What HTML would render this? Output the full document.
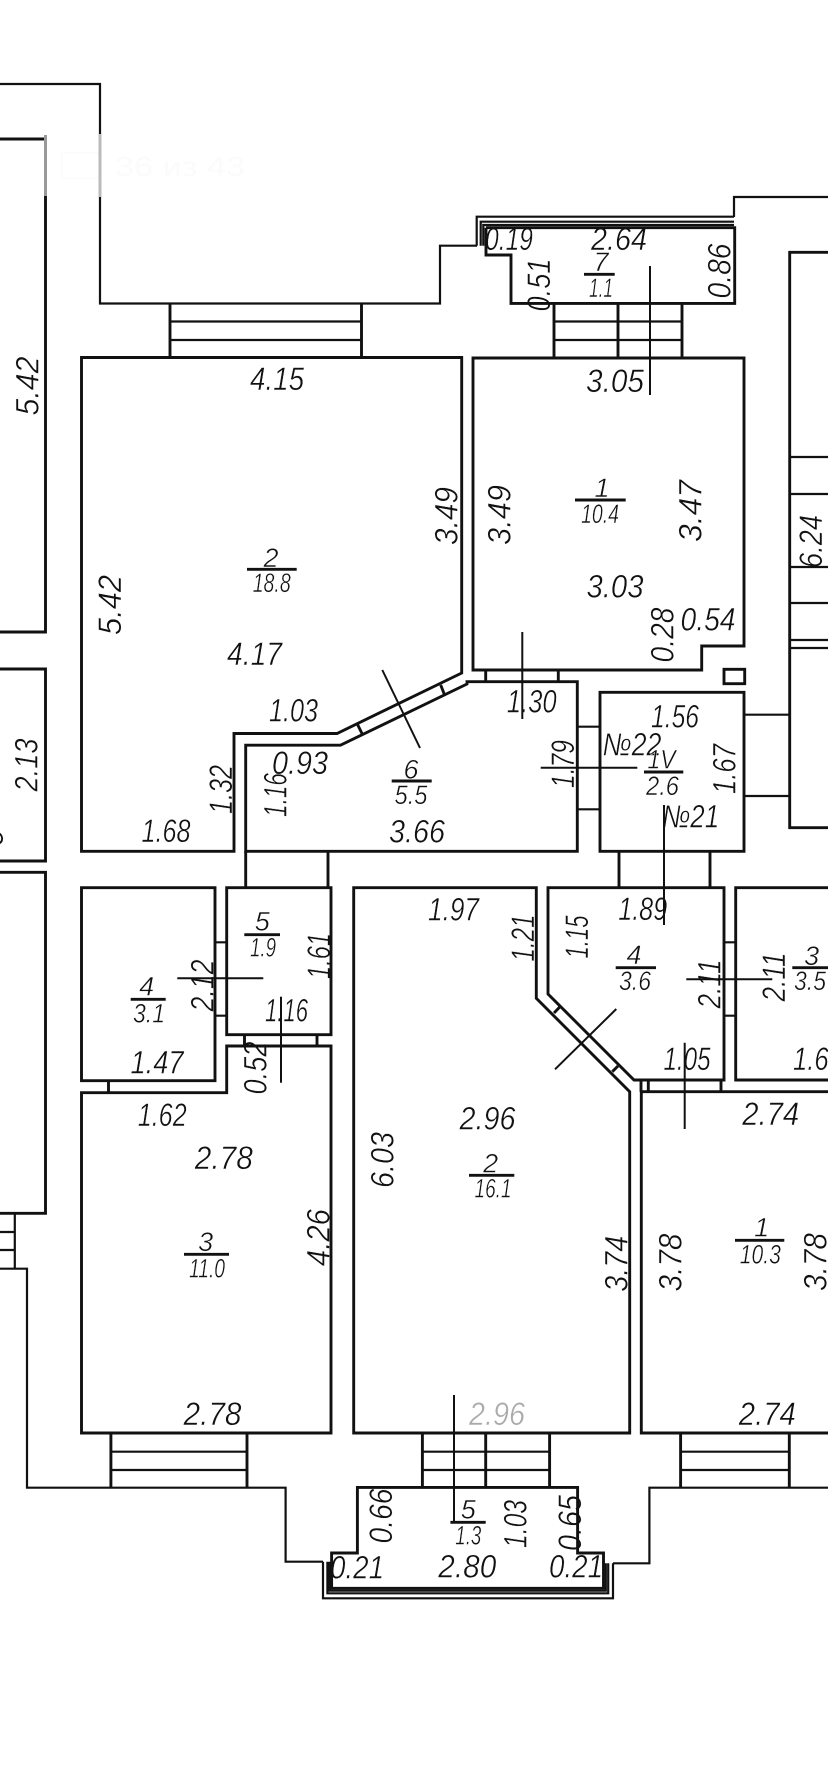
<!DOCTYPE html>
<html><head><meta charset="utf-8"><style>
html,body{margin:0;padding:0;background:#fff;width:828px;height:1792px;overflow:hidden}
svg{display:block}
text{font-family:"Liberation Sans",sans-serif;font-style:italic;font-size:32px;fill:#111;text-anchor:middle;stroke:#fff;stroke-width:.45}
.s{font-size:27px}
.w{fill:none;stroke:#111;stroke-width:2.9;stroke-linejoin:miter}
.o{fill:none;stroke:#111;stroke-width:2.2}
.t{fill:none;stroke:#111;stroke-width:2}
</style></head><body>
<svg width="828" height="1792" viewBox="0 0 828 1792" xmlns="http://www.w3.org/2000/svg">
<rect width="828" height="1792" fill="#fff"/>
<!-- watermark -->
<rect x="62" y="153" width="38" height="25" fill="none" stroke="#fbfbfb" stroke-width="1.5"/>
<text x="180" y="176" textLength="130" lengthAdjust="spacingAndGlyphs" style="font-style:normal;fill:#fbfbfb;font-size:28px;stroke:none">36 из 43</text>

<!-- horizontal labels -->
<text x="277" y="390" textLength="54" lengthAdjust="spacingAndGlyphs">4.15</text>
<text x="509" y="250" textLength="48" lengthAdjust="spacingAndGlyphs">0.19</text>
<text x="619" y="250" textLength="56" lengthAdjust="spacingAndGlyphs">2.64</text>
<text class="s" x="601" y="271">7</text>
<text class="s" x="601" y="297" textLength="24" lengthAdjust="spacingAndGlyphs">1.1</text>
<text x="615" y="392" textLength="58" lengthAdjust="spacingAndGlyphs">3.05</text>
<text class="s" x="602" y="497">1</text>
<text class="s" x="600" y="523" textLength="38" lengthAdjust="spacingAndGlyphs">10.4</text>
<text x="254.500" y="665" textLength="55" lengthAdjust="spacingAndGlyphs">4.17</text>
<text class="s" x="271" y="567">2</text>
<text class="s" x="271.700" y="592" textLength="38" lengthAdjust="spacingAndGlyphs">18.8</text>
<text x="615" y="597.300" textLength="57" lengthAdjust="spacingAndGlyphs">3.03</text>
<text x="708" y="630.700" textLength="55" lengthAdjust="spacingAndGlyphs">0.54</text>
<text x="293.500" y="721.700" textLength="49" lengthAdjust="spacingAndGlyphs">1.03</text>
<text x="300" y="774" textLength="56" lengthAdjust="spacingAndGlyphs">0.93</text>
<text x="166" y="842" textLength="49" lengthAdjust="spacingAndGlyphs">1.68</text>
<text x="417" y="842.700" textLength="56" lengthAdjust="spacingAndGlyphs">3.66</text>
<text class="s" x="411" y="778.300">6</text>
<text class="s" x="411" y="804" textLength="33" lengthAdjust="spacingAndGlyphs">5.5</text>
<text x="531.700" y="712.700" textLength="50" lengthAdjust="spacingAndGlyphs">1.30</text>
<text x="675" y="727.700" textLength="48" lengthAdjust="spacingAndGlyphs">1.56</text>
<text x="632" y="755.700" textLength="59" lengthAdjust="spacingAndGlyphs">№22</text>
<text class="s" x="661.500" y="768.300" textLength="28" lengthAdjust="spacingAndGlyphs">1V</text>
<text class="s" x="662.500" y="795" textLength="33" lengthAdjust="spacingAndGlyphs">2.6</text>
<text x="690.700" y="827.700" textLength="57" lengthAdjust="spacingAndGlyphs">№21</text>
<text x="453.500" y="920.700" textLength="51" lengthAdjust="spacingAndGlyphs">1.97</text>
<text x="642.700" y="920" textLength="49" lengthAdjust="spacingAndGlyphs">1.89</text>
<text class="s" x="634" y="964">4</text>
<text class="s" x="635" y="990" textLength="32" lengthAdjust="spacingAndGlyphs">3.6</text>
<text class="s" x="811.700" y="965">3</text>
<text class="s" x="810" y="990" textLength="32" lengthAdjust="spacingAndGlyphs">3.5</text>
<text x="687" y="1070" textLength="47" lengthAdjust="spacingAndGlyphs">1.05</text>
<text x="818" y="1070" textLength="50" lengthAdjust="spacingAndGlyphs">1.68</text>
<text x="487.500" y="1129.300" textLength="56" lengthAdjust="spacingAndGlyphs">2.96</text>
<text x="770.700" y="1125" textLength="57" lengthAdjust="spacingAndGlyphs">2.74</text>
<text class="s" x="490.700" y="1172.300">2</text>
<text class="s" x="493" y="1197.700" textLength="37" lengthAdjust="spacingAndGlyphs">16.1</text>
<text class="s" x="761.700" y="1236.700">1</text>
<text class="s" x="760.300" y="1263.300" textLength="41" lengthAdjust="spacingAndGlyphs">10.3</text>
<text class="s" x="146.700" y="995.700">4</text>
<text class="s" x="149" y="1022.300" textLength="32" lengthAdjust="spacingAndGlyphs">3.1</text>
<text class="s" x="262.300" y="930.700">5</text>
<text class="s" x="263" y="956.700" textLength="26" lengthAdjust="spacingAndGlyphs">1.9</text>
<text x="286.500" y="1021.700" textLength="43" lengthAdjust="spacingAndGlyphs">1.16</text>
<text x="157" y="1073.300" textLength="53" lengthAdjust="spacingAndGlyphs">1.47</text>
<text x="162.200" y="1126" textLength="49" lengthAdjust="spacingAndGlyphs">1.62</text>
<text x="223.800" y="1169" textLength="58" lengthAdjust="spacingAndGlyphs">2.78</text>
<text class="s" x="205.700" y="1251">3</text>
<text class="s" x="207" y="1277.700" textLength="36" lengthAdjust="spacingAndGlyphs">11.0</text>
<text x="212.500" y="1425" textLength="58" lengthAdjust="spacingAndGlyphs">2.78</text>
<text x="497" y="1425" textLength="56" lengthAdjust="spacingAndGlyphs" style="fill:#aaa">2.96</text>
<text x="767.300" y="1425" textLength="57" lengthAdjust="spacingAndGlyphs">2.74</text>
<text class="s" x="468.300" y="1518.300">5</text>
<text class="s" x="468.300" y="1544.300" textLength="26" lengthAdjust="spacingAndGlyphs">1.3</text>
<text x="357" y="1578.500" textLength="54" lengthAdjust="spacingAndGlyphs">0.21</text>
<text x="467.300" y="1577.300" textLength="58" lengthAdjust="spacingAndGlyphs">2.80</text>
<text x="576" y="1577.300" textLength="54" lengthAdjust="spacingAndGlyphs">0.21</text>

<!-- rotated labels -->
<g transform="translate(38.3,386) rotate(-90)"><text textLength="59" lengthAdjust="spacingAndGlyphs">5.42</text></g>
<g transform="translate(121,605) rotate(-90)"><text textLength="60" lengthAdjust="spacingAndGlyphs">5.42</text></g>
<g transform="translate(550,285) rotate(-90)"><text textLength="53" lengthAdjust="spacingAndGlyphs">0.51</text></g>
<g transform="translate(730.7,271) rotate(-90)"><text textLength="55" lengthAdjust="spacingAndGlyphs">0.86</text></g>
<g transform="translate(457.3,516) rotate(-90)"><text textLength="58" lengthAdjust="spacingAndGlyphs">3.49</text></g>
<g transform="translate(510.7,515) rotate(-90)"><text textLength="60" lengthAdjust="spacingAndGlyphs">3.49</text></g>
<g transform="translate(701.3,511) rotate(-90)"><text textLength="62" lengthAdjust="spacingAndGlyphs">3.47</text></g>
<g transform="translate(822,541.5) rotate(-90)"><text textLength="53" lengthAdjust="spacingAndGlyphs">6.24</text></g>
<g transform="translate(673.3,635) rotate(-90)"><text textLength="55" lengthAdjust="spacingAndGlyphs">0.28</text></g>
<g transform="translate(232,789.500) rotate(-90)"><text textLength="49" lengthAdjust="spacingAndGlyphs">1.32</text></g>
<g transform="translate(286.7,795) rotate(-90)"><text textLength="44" lengthAdjust="spacingAndGlyphs">1.16</text></g>
<g transform="translate(37.3,765) rotate(-90)"><text textLength="53" lengthAdjust="spacingAndGlyphs">2.13</text></g>
<g transform="translate(3,837) rotate(-90)"><text>9</text></g>
<g transform="translate(574,764) rotate(-90)"><text textLength="48" lengthAdjust="spacingAndGlyphs">1.79</text></g>
<g transform="translate(735.7,769) rotate(-90)"><text textLength="50" lengthAdjust="spacingAndGlyphs">1.67</text></g>
<g transform="translate(534,938) rotate(-90)"><text textLength="47" lengthAdjust="spacingAndGlyphs">1.21</text></g>
<g transform="translate(588,937) rotate(-90)"><text textLength="43" lengthAdjust="spacingAndGlyphs">1.15</text></g>
<g transform="translate(720.7,984) rotate(-90)"><text textLength="49" lengthAdjust="spacingAndGlyphs">2.11</text></g>
<g transform="translate(785,977) rotate(-90)"><text textLength="49" lengthAdjust="spacingAndGlyphs">2.11</text></g>
<g transform="translate(393.3,1160) rotate(-90)"><text textLength="56" lengthAdjust="spacingAndGlyphs">6.03</text></g>
<g transform="translate(627.3,1263.700) rotate(-90)"><text textLength="56" lengthAdjust="spacingAndGlyphs">3.74</text></g>
<g transform="translate(681.7,1262.500) rotate(-90)"><text textLength="58" lengthAdjust="spacingAndGlyphs">3.78</text></g>
<g transform="translate(826.7,1262) rotate(-90)"><text textLength="58" lengthAdjust="spacingAndGlyphs">3.78</text></g>
<g transform="translate(213.3,985.500) rotate(-90)"><text textLength="52" lengthAdjust="spacingAndGlyphs">2.12</text></g>
<g transform="translate(330,956) rotate(-90)"><text textLength="46" lengthAdjust="spacingAndGlyphs">1.61</text></g>
<g transform="translate(266.7,1068) rotate(-90)"><text textLength="53" lengthAdjust="spacingAndGlyphs">0.52</text></g>
<g transform="translate(329.3,1237.600) rotate(-90)"><text textLength="57" lengthAdjust="spacingAndGlyphs">4.26</text></g>
<g transform="translate(391.8,1516) rotate(-90)"><text textLength="55" lengthAdjust="spacingAndGlyphs">0.66</text></g>
<g transform="translate(526.4,1524) rotate(-90)"><text textLength="48" lengthAdjust="spacingAndGlyphs">1.03</text></g>
<g transform="translate(580.8,1523) rotate(-90)"><text textLength="56" lengthAdjust="spacingAndGlyphs">0.65</text></g>

<!-- outer contour -->
<path class="o" d="M0,84 H100 V303.5 H440 V245.7 H477"/>
<path class="o" d="M734,217 V197 H828"/>
<path class="w" d="M0,139 H45.5 V632 H0"/>
<path class="w" d="M0,669 H45.5 V861 H0"/>
<path class="w" d="M0,872.3 H45.5 V1213.3 H0"/>
<path d="M45.5,135 V196" stroke="#999" stroke-width="3" fill="none"/>
<path d="M100,134 V197" stroke="#bbb" stroke-width="3" fill="none"/>
<path class="o" d="M14.8,1213 V1268.7 M0,1232 H14.8 M0,1250 H14.8"/>
<path class="o" d="M0,1268.7 H27 V1487.7 H285.6 V1561.7 H323"/>
<path class="o" d="M613,1563.3 H649.4 V1487.7 H828"/>
<!-- right block -->
<path class="w" d="M828,252.3 H789.7 V827.7 H828"/>
<path class="o" d="M789.7,457 H828 M789.7,494 H828 M789.7,567 H828 M789.7,603 H828 M789.7,640 H828 M789.7,648 H828"/>

<!-- top balcony -->
<path class="o" d="M476.7,245.7 V216.7 H734 M480.7,245.7 V221.7 H734 M483.3,245.7 V225 H734"/>
<path class="w" d="M486,227.7 V255 H511 V303.4 H734.7 V227.7 H486"/>
<!-- bottom balcony -->
<path class="o" d="M323,1561.7 V1598.3 H613 V1563.3 M327.4,1561.7 V1593.3 H608.2 V1563.3 M329.5,1561.7 V1590.7 H605.8 V1563.3"/>
<path class="w" d="M331.6,1553 V1588.3 H603.5 V1553 H577.6 V1487.4 H357.4 V1553 Z"/>

<!-- rooms -->
<path class="w" d="M81.5,357.5 H461.7 V673 L337,733.5 H234 V851.3 H81.5 Z"/>
<path class="w" d="M473,358 H744 V646 H701.7 V670 H473 Z"/>
<path class="w" d="M245.7,851.3 V745.2 H340.5 L467,684 V681.7 H577.3 V851.3 Z"/>
<path class="w" d="M600,692.3 H744 V851.3 H600 Z"/>
<rect class="w" x="724" y="669.3" width="20.7" height="14.4"/>
<path class="w" d="M81.5,887.7 H215 V1080.7 H81.5 Z"/>
<path class="w" d="M226.7,887.7 H331 V1034.7 H226.7 Z"/>
<path class="w" d="M81.5,1092.7 H226.7 V1046 H331 V1433 H81.5 Z"/>
<path class="w" d="M353.7,887.7 H536.3 V998.3 L629.7,1091.7 V1433 H353.7 Z"/>
<path class="w" d="M548,887.7 H724 V1080 H634 L548,994 Z"/>
<path class="w" d="M828,887.7 H735.7 V1080 H828"/>
<path class="w" d="M828,1091.7 H641.3 V1433 H828"/>

<!-- connecting ticks -->
<path class="w" d="M357.3,724 L362.7,735 M440.7,685 L445,696"/>
<path class="w" d="M485.7,670 V681.7 M558.3,670 V681.7"/>
<path class="w" d="M245.7,851 V887.7 M328,851 V887.7"/>
<path class="o" d="M215,942.3 H226.7 M215,1015.7 H226.7"/>
<path class="w" d="M108.5,1080.7 V1092.7"/>
<path class="w" d="M244.5,1034.7 V1046 M317,1034.7 V1046"/>
<path class="o" d="M577.3,726.7 H600 M577.3,809.3 H600"/>
<path class="o" d="M744,714.7 H789.7 M744,796 H789.7"/>
<path class="w" d="M619,851 V887.7 M710,851 V887.7"/>
<path class="o" d="M724,942.3 H735.7 M724,1015.7 H735.7"/>
<path class="w" d="M554,1013 L560.7,1006 M612.3,1071.7 L618,1066"/>
<path class="w" d="M641,1080 V1091.7 M648.3,1080 V1091.7 M721,1080 V1091.7"/>

<!-- stairs -->
<path class="w" d="M170,303.5 V357.5 M361.5,303.5 V357.5"/>
<path class="o" d="M170,321.5 H361.5 M170,340 H361.5"/>
<path class="w" d="M554,303.5 V358 M618,303.5 V358 M682,303.5 V358"/>
<path class="o" d="M554,321.5 H682 M554,340 H682"/>
<path class="w" d="M110.9,1433 V1487.7 M247,1433 V1487.7"/>
<path class="o" d="M110.9,1451.7 H247 M110.9,1470 H247"/>
<path class="w" d="M422.4,1433 V1487.7 M485.7,1433 V1487.7 M549.6,1433 V1487.7"/>
<path class="o" d="M422.4,1451.7 H549.6 M422.4,1470 H549.6"/>
<path class="w" d="M680.6,1433 V1487.7 M789.3,1433 V1487.7"/>
<path class="o" d="M680.6,1451.7 H789.3 M680.6,1470 H789.3"/>

<!-- thin section lines -->
<path class="t" d="M650,266 V395"/>
<path class="t" d="M382.3,670 L420,748"/>
<path class="t" d="M522.3,632 V719"/>
<path class="t" d="M540.7,767.7 H637.3"/>
<path class="t" d="M664,805 V925"/>
<path class="t" d="M686.3,979.3 H772.3"/>
<path class="t" d="M616.3,1009 L555,1069.3"/>
<path class="t" d="M684.7,1042.7 V1129"/>
<path class="t" d="M177.3,978.3 H263.3"/>
<path class="t" d="M281,996.7 V1082.7"/>
<path class="t" d="M454,1395 V1523"/>

<!-- fraction bars -->
<path class="w" d="M584,274.3 H614.7 M575,500 H625.7 M247,569.3 H296.7 M391.7,781 H431.7 M644,772 H683.3 M615.7,967.7 H656 M792.3,967.7 H828 M469,1175.3 H514.3 M735,1240.3 H784.3 M130.7,999.3 H165.7 M244.3,934.7 H280 M184,1254.3 H229 M450.4,1522.3 H485.7"/>
</svg>
</body></html>
